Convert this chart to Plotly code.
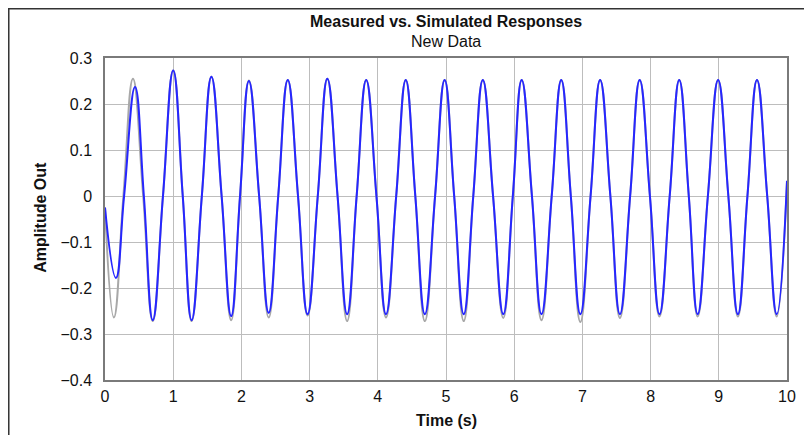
import plotly.graph_objects as go

t_meas = [0.00, 0.13, 0.27, 0.41, 0.56, 0.70, 0.85, 1.00, 1.14, 1.27, 1.42, 1.56, 1.71, 1.85,
          1.98, 2.11, 2.26, 2.40, 2.54, 2.68, 2.83, 2.97, 3.12, 3.26, 3.41, 3.55, 3.69, 3.83,
          3.98, 4.12, 4.27, 4.41, 4.55, 4.69, 4.84, 4.98, 5.12, 5.26, 5.40, 5.54, 5.69, 5.84,
          5.98, 6.11, 6.26, 6.40, 6.55, 6.69, 6.83, 6.97, 7.12, 7.26, 7.41, 7.55, 7.70, 7.84,
          7.99, 8.13, 8.28, 8.42, 8.56, 8.69, 8.84, 8.99, 9.14, 9.28, 9.42, 9.56, 9.71, 9.85, 10.00]
y_meas = [-0.025, -0.264, 0.0, 0.255, 0.0, -0.272, 0.0, 0.273, 0.0, -0.272, 0.0, 0.259, 0.0, -0.270,
          0.0, 0.251, 0.0, -0.264, 0.0, 0.252, 0.0, -0.260, 0.0, 0.255, 0.0, -0.272, 0.0, 0.252,
          0.0, -0.264, 0.0, 0.252, 0.0, -0.272, 0.0, 0.252, 0.0, -0.272, 0.0, 0.252, 0.0, -0.265,
          0.0, 0.252, 0.0, -0.270, 0.0, 0.252, 0.0, -0.274, 0.0, 0.252, 0.0, -0.265, 0.0, 0.252,
          0.0, -0.262, 0.0, 0.252, 0.0, -0.262, 0.0, 0.252, 0.0, -0.262, 0.0, 0.252, 0.0, -0.262, 0.03]

# Simulated response (blue)
t_sim = [0.00, 0.16, 0.28, 0.44, 0.57, 0.70, 0.85, 1.00, 1.14, 1.27, 1.42, 1.56, 1.71, 1.85,
         1.98, 2.11, 2.26, 2.40, 2.54, 2.68, 2.83, 2.97, 3.12, 3.26, 3.41, 3.55, 3.69, 3.83,
         3.98, 4.12, 4.27, 4.41, 4.55, 4.69, 4.84, 4.98, 5.12, 5.26, 5.40, 5.54, 5.69, 5.84,
         5.98, 6.11, 6.26, 6.40, 6.55, 6.69, 6.83, 6.97, 7.12, 7.26, 7.41, 7.55, 7.70, 7.84,
         7.99, 8.13, 8.28, 8.42, 8.56, 8.69, 8.84, 8.99, 9.14, 9.28, 9.42, 9.56, 9.71, 9.85, 10.00]
y_sim = [-0.025, -0.178, 0.0, 0.237, 0.0, -0.270, 0.0, 0.273, 0.0, -0.270, 0.0, 0.259, 0.0, -0.261,
         0.0, 0.250, 0.0, -0.254, 0.0, 0.252, 0.0, -0.257, 0.0, 0.255, 0.0, -0.257, 0.0, 0.252,
         0.0, -0.257, 0.0, 0.252, 0.0, -0.257, 0.0, 0.252, 0.0, -0.257, 0.0, 0.252, 0.0, -0.257,
         0.0, 0.252, 0.0, -0.257, 0.0, 0.252, 0.0, -0.257, 0.0, 0.252, 0.0, -0.257, 0.0, 0.252,
         0.0, -0.257, 0.0, 0.252, 0.0, -0.257, 0.0, 0.252, 0.0, -0.257, 0.0, 0.252, 0.0, -0.257, 0.033]

x_ticks = [0, 1, 2, 3, 4, 5, 6, 7, 8, 9, 10]
y_ticks = [-0.4, -0.3, -0.2, -0.1, 0, 0.1, 0.2, 0.3]
y_tick_text = ["\u22120.4", "\u22120.3", "\u22120.2", "\u22120.1", "0", "0.1", "0.2", "0.3"]

FONT = "Liberation Sans, Arial, sans-serif"

fig = go.Figure()
fig.add_trace(go.Scatter(x=t_meas, y=y_meas, mode="lines", name="Measured",
                         line=dict(color="#a8a8a8", width=2, shape="spline", smoothing=1.3)))
fig.add_trace(go.Scatter(x=t_sim, y=y_sim, mode="lines", name="Simulated",
                         line=dict(color="#2626ff", width=2, shape="spline", smoothing=1.3)))

fig.update_layout(
    width=804, height=427,
    margin=dict(l=97, r=25, t=50, b=55, autoexpand=False),
    paper_bgcolor="white", plot_bgcolor="white",
    showlegend=False,
    font=dict(family=FONT, size=16, color="#111"),
    xaxis=dict(range=[0, 10], tickvals=x_ticks, showgrid=True, gridcolor="#bdbdbd", gridwidth=1,
               showline=True, linecolor="#7a7a7a", linewidth=1.5, mirror=True, zeroline=False,
               ticks="", ticklabelstandoff=1, tickfont=dict(size=16), automargin=False),
    yaxis=dict(range=[-0.4, 0.3], tickvals=y_ticks, ticktext=y_tick_text, showgrid=True,
               gridcolor="#bdbdbd", gridwidth=1,
               showline=True, linecolor="#7a7a7a", linewidth=1.5, mirror=True, zeroline=False,
               ticks="", ticklabelstandoff=8, tickfont=dict(size=16), automargin=False),
    annotations=[
        dict(text="<b>Measured vs. Simulated Responses</b>", x=0.5, y=1.112, xref="paper",
             yref="paper", showarrow=False, font=dict(size=16), yanchor="middle"),
        dict(text="New Data", x=0.5, y=1.050, xref="paper", yref="paper", showarrow=False,
             font=dict(size=16), yanchor="middle"),
        dict(text="<b>Time (s)</b>", x=0.5, y=-0.127, xref="paper", yref="paper",
             showarrow=False, font=dict(size=16), yanchor="middle"),
        dict(text="<b>Amplitude Out</b>", x=-0.0946, y=0.505, xref="paper", yref="paper",
             showarrow=False, font=dict(size=16), textangle=-90, xanchor="center",
             yanchor="middle"),
    ],
    shapes=[
        dict(type="rect", xref="paper", yref="paper", x0=-0.1411, x1=1.2, y0=-0.3, y1=1.153,
             line=dict(color="#333", width=1.5), layer="below"),
    ],
)

fig.write_html("out.html")
